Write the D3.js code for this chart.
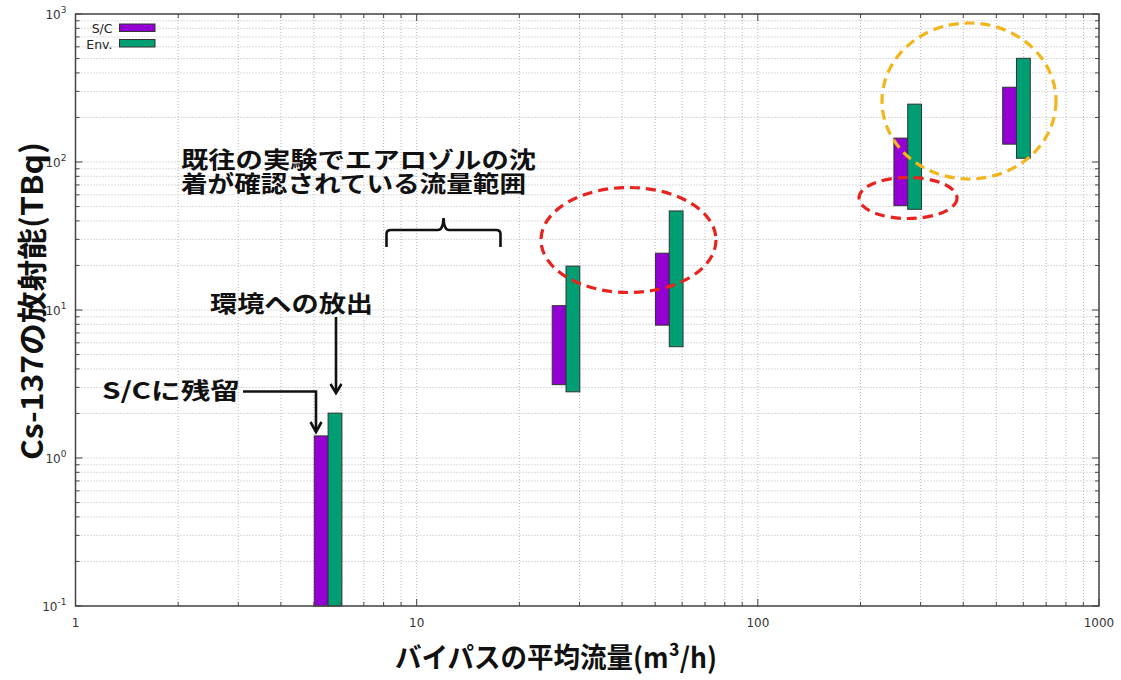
<!DOCTYPE html>
<html>
<head>
<meta charset="utf-8">
<script src="https://cdn.jsdelivr.net/npm/d3@7"></script>
<style>
  body { margin: 0; background: #fff; }
  svg { display: block; }
</style>
</head>
<body>
<div id="chart"></div>
<script>
// data
var flowRates = [5.5, 27.4, 55, 275, 573];          // m3/h
var scLow   = [0.1, 3.13, 7.9, 50.7, 132];         // S/C残留 (TBq)
var scHigh  = [1.41, 10.7, 24.2, 145, 320];
var envLow  = [0.1, 2.8, 5.65, 47.9, 106];         // 環境への放出 (TBq)
var envHigh = [2.01, 19.8, 46.7, 246, 502];
var seriesNames = ["S/C", "Env."];
var xTickValues = [1, 10, 100, 1000];
var yTickExponents = [-1, 0, 1, 2, 3];

var W = 1121, H = 680;
var margin = {top: 14, right: 22, bottom: 74, left: 75.5};
var width = W - margin.left - margin.right,
    height = H - margin.top - margin.bottom;

var cPurple = "#9400d3", cGreen = "#009e73";
var jp = "'Noto Sans CJK JP', 'Noto Sans', sans-serif";

var svg = d3.select("#chart").append("svg")
    .attr("width", W).attr("height", H);

var g = svg.append("g")
    .attr("transform", "translate(" + margin.left + "," + margin.top + ")");

var x = d3.scaleLog().domain([1, 1000]).range([0, width]);
var y = d3.scaleLog().domain([0.1, 1000]).range([height, 0]);

// minor + major grid values
function logTicks(lo, hi) {
    var out = [];
    for (var e = lo; e < hi; e++) {
        for (var m = 1; m < 10; m++) out.push(m * Math.pow(10, e));
    }
    out.push(Math.pow(10, hi));
    return out;
}
var xGrid = logTicks(0, 3);
var yGrid = logTicks(-1, 3);

// dotted grid
g.append("g").selectAll("line").data(xGrid).enter().append("line")
    .attr("x1", function (d) { return x(d); }).attr("x2", function (d) { return x(d); })
    .attr("y1", 0).attr("y2", height)
    .attr("stroke", "#b8b8b8").attr("stroke-width", 1)
    .attr("stroke-dasharray", "1,2");
g.append("g").selectAll("line").data(yGrid).enter().append("line")
    .attr("y1", function (d) { return y(d); }).attr("y2", function (d) { return y(d); })
    .attr("x1", 0).attr("x2", width)
    .attr("stroke", "#b8b8b8").attr("stroke-width", 1)
    .attr("stroke-dasharray", "1,2");

// bars
var bw = 13.8;
var pairs = flowRates.map(function (f, i) {
    return {f: f, scL: scLow[i], scH: scHigh[i], envL: envLow[i], envH: envHigh[i]};
});
var bars = g.append("g");
bars.selectAll("rect.sc").data(pairs).enter().append("rect")
    .attr("class", "sc")
    .attr("x", function (d) { return x(d.f) - bw; })
    .attr("y", function (d) { return y(d.scH); })
    .attr("width", bw)
    .attr("height", function (d) { return y(d.scL) - y(d.scH); })
    .attr("fill", cPurple).attr("stroke", "#333").attr("stroke-width", 1);
bars.selectAll("rect.env").data(pairs).enter().append("rect")
    .attr("class", "env")
    .attr("x", function (d) { return x(d.f); })
    .attr("y", function (d) { return y(d.envH); })
    .attr("width", bw)
    .attr("height", function (d) { return y(d.envL) - y(d.envH); })
    .attr("fill", cGreen).attr("stroke", "#333").attr("stroke-width", 1);

// border
g.append("rect").attr("width", width).attr("height", height)
    .attr("fill", "none").attr("stroke", "#444").attr("stroke-width", 1.5);

// inward ticks on all four sides
var ticks = g.append("g").attr("stroke", "#444").attr("stroke-width", 1);
xGrid.forEach(function (d) {
    var major = Math.abs(Math.log10(d) - Math.round(Math.log10(d))) < 1e-9;
    var len = major ? 7 : 4;
    ticks.append("line").attr("x1", x(d)).attr("x2", x(d)).attr("y1", height).attr("y2", height - len);
    ticks.append("line").attr("x1", x(d)).attr("x2", x(d)).attr("y1", 0).attr("y2", len);
});
yGrid.forEach(function (d) {
    var major = Math.abs(Math.log10(d) - Math.round(Math.log10(d))) < 1e-9;
    var len = major ? 7 : 4;
    ticks.append("line").attr("y1", y(d)).attr("y2", y(d)).attr("x1", 0).attr("x2", len);
    ticks.append("line").attr("y1", y(d)).attr("y2", y(d)).attr("x1", width).attr("x2", width - len);
});

// tick labels
g.append("g").selectAll("text").data(xTickValues).enter().append("text")
    .attr("x", function (d) { return x(d); })
    .attr("y", height + 21)
    .attr("text-anchor", "middle")
    .attr("font-family", "'DejaVu Sans', sans-serif").attr("font-size", 12)
    .attr("fill", "#333")
    .text(function (d) { return d; });

var yl = g.append("g").selectAll("text").data(yTickExponents).enter().append("text")
    .attr("x", -9)
    .attr("y", function (e) { return y(Math.pow(10, e)) + 5; })
    .attr("text-anchor", "end")
    .attr("font-family", "'DejaVu Sans', sans-serif").attr("font-size", 12)
    .attr("fill", "#333");
yl.append("tspan").text("10");
yl.append("tspan").attr("dy", -6).attr("font-size", 9).text(function (e) { return e; });

// legend
var leg = g.append("g");
[cPurple, cGreen].forEach(function (c, i) {
    leg.append("text")
        .attr("x", 37).attr("y", 19 + i * 15.5)
        .attr("text-anchor", "end")
        .attr("font-family", "'DejaVu Sans', sans-serif").attr("font-size", 12.5)
        .attr("fill", "#222")
        .text(seriesNames[i]);
    leg.append("rect")
        .attr("x", 44).attr("y", 10 + i * 15.5)
        .attr("width", 35.5).attr("height", 7.5)
        .attr("fill", c).attr("stroke", "#333").attr("stroke-width", 1);
});

// axis titles
svg.append("text")
    .attr("x", 556).attr("y", 668)
    .attr("text-anchor", "middle")
    .attr("font-family", jp).attr("font-weight", 700).attr("font-size", 28)
    .attr("textLength", 322).attr("lengthAdjust", "spacingAndGlyphs")
    .attr("fill", "#111")
    .text("バイパスの平均流量(m³/h)");

svg.append("text")
    .attr("transform", "translate(43,301) rotate(-90)")
    .attr("text-anchor", "middle")
    .attr("font-family", jp).attr("font-weight", 700).attr("font-size", 30)
    .attr("textLength", 318).attr("lengthAdjust", "spacingAndGlyphs")
    .attr("fill", "#111")
    .text("Cs-137の放射能(TBq)");

// annotations
var ann = svg.append("g").attr("font-family", jp).attr("fill", "#111")
    .attr("font-weight", 700);
var note = ann.append("text").attr("font-size", 23);
note.append("tspan").attr("x", 181).attr("y", 168)
    .attr("textLength", 355).attr("lengthAdjust", "spacingAndGlyphs")
    .text("既往の実験でエアロゾルの沈");
note.append("tspan").attr("x", 181).attr("y", 192)
    .attr("textLength", 345).attr("lengthAdjust", "spacingAndGlyphs")
    .text("着が確認されている流量範囲");
ann.append("text").attr("x", 210).attr("y", 312)
    .attr("font-size", 23)
    .attr("textLength", 163).attr("lengthAdjust", "spacingAndGlyphs")
    .text("環境への放出");
ann.append("text").attr("x", 102).attr("y", 399)
    .attr("font-size", 23)
    .attr("textLength", 138).attr("lengthAdjust", "spacingAndGlyphs")
    .text("S/Cに残留");

var lines = svg.append("g").attr("fill", "none").attr("stroke", "#111")
    .attr("stroke-width", 2.6).attr("stroke-linejoin", "miter");
// brace
lines.append("path")
    .attr("d", "M386.5,247 V234 Q386.5,230 391,230 H438 Q443,230 443.5,218 Q444,230 449,230 H496 Q500.5,230 500.5,234 V247");
// arrow: 環境への放出
lines.append("path").attr("d", "M336,317 V392");
lines.append("path").attr("d", "M330.5,384 L336,393 L341.5,384");
// arrow: S/Cに残留
lines.append("path").attr("d", "M243,391.5 H316 V431");
lines.append("path").attr("d", "M310.5,422 L316,432 L321.5,422");

// dashed ellipses
var ell = svg.append("g").attr("fill", "none").attr("stroke-width", 3.2)
    .attr("stroke-dasharray", "10,6");
ell.append("ellipse").attr("cx", 628.5).attr("cy", 240).attr("rx", 87.5).attr("ry", 52.5)
    .attr("stroke", "#e8231f");
ell.append("ellipse").attr("cx", 908).attr("cy", 198).attr("rx", 49).attr("ry", 20.5)
    .attr("stroke", "#e8231f");
ell.append("ellipse").attr("cx", 969).attr("cy", 101).attr("rx", 87).attr("ry", 78)
    .attr("stroke", "#f2b51b");
</script>
</body>
</html>
